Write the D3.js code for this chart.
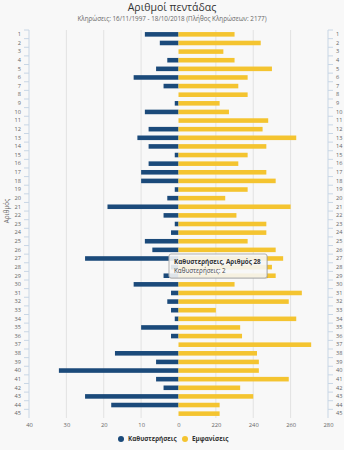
<!DOCTYPE html>
<html><head><meta charset="utf-8">
<script src="https://cdn.jsdelivr.net/npm/d3@7"></script>
<style>
html,body{margin:0;padding:0;background:#f8f8f8;}
svg{display:block;font-family:"Open Sans",Lato,sans-serif;}
</style></head>
<body><svg id="c" width="344" height="450"></svg>
<script>
const numbers = d3.range(1, 46);
const delays = [9,5,0,3,6,12,4,0,1,9, 0,8,11,8,1,8,10,10,1,3, 19,4,1,2,9,7,25,2,4,12, 2,3,2,1,10,2,0,17,6,32, 6,4,25,18,0];
const appearances = [230,244,224,230,250,237,232,237,222,227, 248,245,263,247,237,232,247,252,237,225, 260,231,247,247,237,252,256,250,252,230, 266,259,220,263,233,234,271,242,243,243, 259,233,240,222,222];
const leftTicks = [40,30,20,10,0];
const rightTicks = [220,240,260,280];
const seriesNames = ["Καθυστερήσεις","Εμφανίσεις"];
const colors = ["#1b4a7a","#f4c430"];

const svg = d3.select("#c");
const cx = 178.5, L = 29, R = 328, T = 30, B = 418;
const xL = d3.scaleLinear().domain([0,40]).range([cx, L]);
const xR = d3.scaleLinear().domain([200,280]).range([cx, R]);
const y = d3.scaleBand().domain(numbers).range([T, B]).paddingInner(0.47).paddingOuter(0.24);

// title
svg.append("text").attr("x",172).attr("y",11).attr("text-anchor","middle")
  .attr("font-size",10.5).attr("fill","#333").text("Αριθμοί πεντάδας");
svg.append("text").attr("x",172).attr("y",20.5).attr("text-anchor","middle")
  .attr("font-size",6.3).attr("fill","#666")
  .text("Κληρώσεις: 16/11/1997 - 18/10/2018 (Πλήθος Κληρώσεων: 2177)");

// gridlines
const g = svg.append("g");
leftTicks.filter(t=>t!==40&&t!==0).forEach(t=>{
  g.append("line").attr("x1",xL(t)).attr("x2",xL(t)).attr("y1",T).attr("y2",B)
   .attr("stroke","#e2e2e2").attr("stroke-width",1);
});
rightTicks.filter(t=>t!==280).forEach(t=>{
  g.append("line").attr("x1",xR(t)).attr("x2",xR(t)).attr("y1",T).attr("y2",B)
   .attr("stroke","#e2e2e2").attr("stroke-width",1);
});

// bars
svg.append("g").selectAll("rect").data(numbers).join("rect")
  .attr("x",(d,i)=>xL(delays[i])).attr("y",d=>y(d))
  .attr("width",(d,i)=>cx - xL(delays[i])).attr("height",y.bandwidth())
  .attr("fill",colors[0]);
svg.append("g").selectAll("rect").data(numbers).join("rect")
  .attr("x",cx).attr("y",d=>y(d))
  .attr("width",(d,i)=>xR(appearances[i]) - cx).attr("height",y.bandwidth())
  .attr("fill",colors[1]);

// left y axis
const yAxisL = d3.axisLeft(y).tickSize(5).tickPadding(3);
const ga = svg.append("g").attr("transform",`translate(${L},0)`).call(yAxisL);
ga.select(".domain").attr("stroke","#c8d6e5").attr("d",`M0,${T}V${B}`);
ga.selectAll(".tick line").attr("stroke","#c8d6e5")
  .attr("transform","translate(0,"+(-y.step()/2)+")");
ga.selectAll(".tick text").attr("font-size",5.6).attr("fill","#666").attr("font-family","Open Sans, sans-serif");

// right y axis
const yAxisR = d3.axisRight(y).tickSize(5).tickPadding(3);
const gb = svg.append("g").attr("transform",`translate(${R},0)`).call(yAxisR);
gb.select(".domain").attr("stroke","#c8d6e5").attr("d",`M0,${T}V${B}`);
gb.selectAll(".tick line").attr("stroke","#c8d6e5")
  .attr("transform","translate(0,"+(-y.step()/2)+")");
gb.selectAll(".tick text").attr("font-size",5.6).attr("fill","#666").attr("font-family","Open Sans, sans-serif");

// y title
svg.append("text").attr("transform","translate(9,211) rotate(-90)").attr("text-anchor","middle")
  .attr("font-size",6.3).attr("fill","#666").text("Αριθμός");

// x axes (bottom labels)
const xa1 = svg.append("g").attr("transform",`translate(0,${B})`).call(d3.axisBottom(xL).tickValues(leftTicks).tickSize(0).tickPadding(5));
xa1.select(".domain").remove();
xa1.selectAll("text").attr("font-size",5.8).attr("fill","#666").attr("font-family","Open Sans, sans-serif");
const xa2 = svg.append("g").attr("transform",`translate(0,${B})`).call(d3.axisBottom(xR).tickValues(rightTicks).tickSize(0).tickPadding(5));
xa2.select(".domain").remove();
xa2.selectAll("text").attr("font-size",5.8).attr("fill","#666").attr("font-family","Open Sans, sans-serif");

// legend
const lg = svg.append("g").attr("font-size",6.3).attr("font-weight","bold").attr("fill","#333");
const lx = [121, 185];
seriesNames.forEach((n,i)=>{
  lg.append("circle").attr("cx",lx[i]).attr("cy",439).attr("r",3).attr("fill",colors[i]);
  lg.append("text").attr("x",lx[i]+7).attr("y",441.2).attr("fill","#333").text(n);
});

// tooltip (number 28)
const ti = 27;
const tip = svg.append("g").attr("transform","translate(169,254)");
tip.append("rect").attr("x",1).attr("y",1).attr("width",98).attr("height",24).attr("rx",2)
  .attr("fill","rgba(0,0,0,0.12)");
tip.append("rect").attr("width",98).attr("height",24).attr("rx",2)
  .attr("fill","rgba(250,250,250,0.88)").attr("stroke","#b0b0b0").attr("stroke-width",1);
tip.append("text").attr("x",5).attr("y",10).attr("font-size",6.3).attr("font-weight","bold").attr("fill","#333")
  .text(`${seriesNames[0]}, Αριθμός ${numbers[ti]}`);
tip.append("text").attr("x",5).attr("y",19).attr("font-size",6.3).attr("fill","#444")
  .text(`${seriesNames[0]}: ${delays[ti]}`);
</script></body></html>
